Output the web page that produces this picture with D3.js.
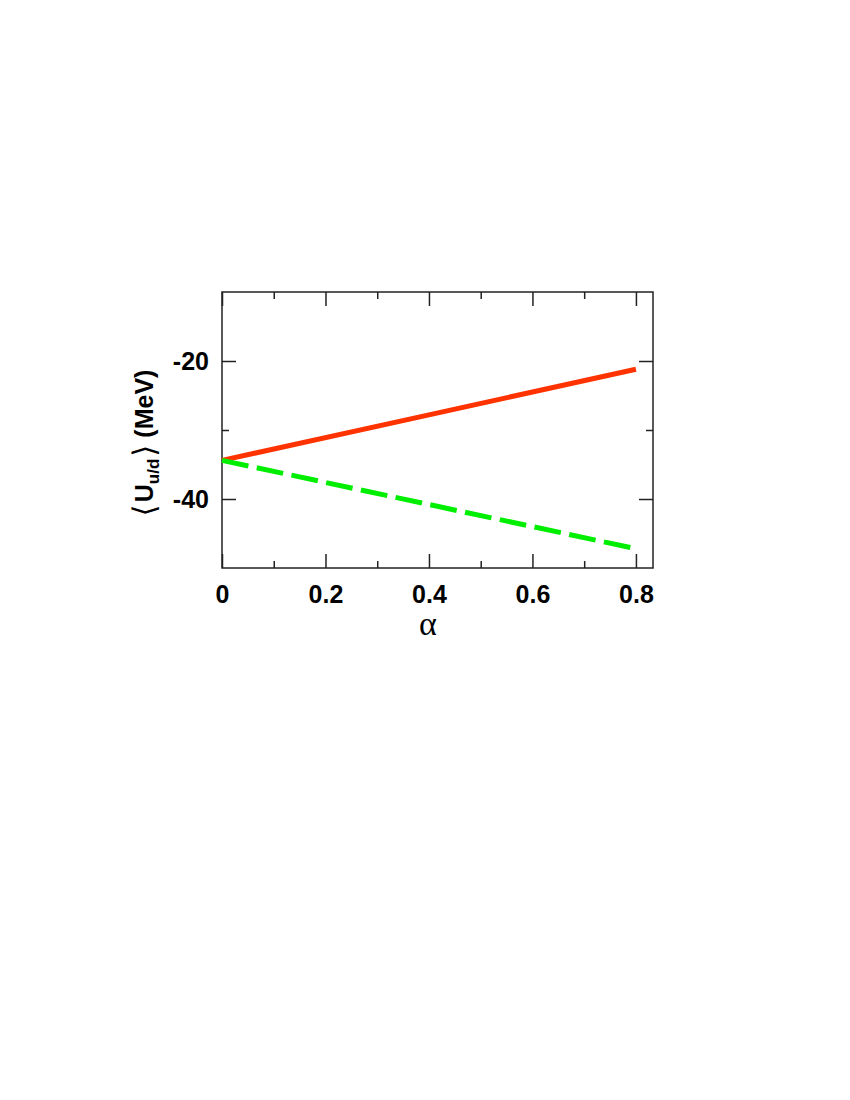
<!DOCTYPE html>
<html>
<head>
<meta charset="utf-8">
<script src="https://cdn.jsdelivr.net/npm/d3@7"></script>
<style>
  body { margin: 0; background: #fff; }
  svg { display: block; }
</style>
</head>
<body>
<svg id="chart" width="850" height="1100"></svg>
<script>
// ---- data ----
const alpha = [0, 0.4, 0.8];
const uUp = [-34.4, -27.8, -21.2];     // red solid
const uDown = [-34.4, -40.8, -47.2];   // green dashed
const xMajorTicks = [0, 0.2, 0.4, 0.6, 0.8];
const xMinorTicks = [0.1, 0.3, 0.5, 0.7];
const yMajorTicks = [-20, -40];
const yMinorTicks = [-30];
const xTickLabels = ["0", "0.2", "0.4", "0.6", "0.8"];
const yTickLabels = ["-20", "-40"];

// ---- layout ----
const L = 222, R = 653, T = 292, B = 568;
const svg = d3.select("#chart");
const x = d3.scaleLinear().domain([0, 0.833]).range([L, R]);
const y = d3.scaleLinear().domain([-50, -10]).range([B, T]);

const fontBold = "'Liberation Sans', Arial, Helvetica, sans-serif";

function styleAxis(g) {
  g.select(".domain").remove();
  g.selectAll(".tick line").attr("stroke", "#222").attr("stroke-width", 1.5);
  g.selectAll(".tick text").attr("fill", "#000")
    .style("font-family", fontBold).style("font-weight", "bold").style("font-size", "25px");
}

// bottom major
svg.append("g").attr("transform", `translate(0,${B})`)
  .call(d3.axisBottom(x).tickValues(xMajorTicks).tickSize(-14).tickPadding(17)
    .tickFormat((d, i) => xTickLabels[i]))
  .call(styleAxis);
// bottom minor
svg.append("g").attr("transform", `translate(0,${B})`)
  .call(d3.axisBottom(x).tickValues(xMinorTicks).tickSize(-7).tickFormat(""))
  .call(styleAxis);
// top major/minor
svg.append("g").attr("transform", `translate(0,${T})`)
  .call(d3.axisTop(x).tickValues(xMajorTicks).tickSize(-14).tickFormat(""))
  .call(styleAxis);
svg.append("g").attr("transform", `translate(0,${T})`)
  .call(d3.axisTop(x).tickValues(xMinorTicks).tickSize(-7).tickFormat(""))
  .call(styleAxis);
// left major
svg.append("g").attr("transform", `translate(${L},0)`)
  .call(d3.axisLeft(y).tickValues(yMajorTicks).tickSize(-14).tickPadding(13)
    .tickFormat((d, i) => yTickLabels[i]))
  .call(styleAxis);
svg.append("g").attr("transform", `translate(${L},0)`)
  .call(d3.axisLeft(y).tickValues(yMinorTicks).tickSize(-7).tickFormat(""))
  .call(styleAxis);
// right
svg.append("g").attr("transform", `translate(${R},0)`)
  .call(d3.axisRight(y).tickValues(yMajorTicks).tickSize(-14).tickFormat(""))
  .call(styleAxis);
svg.append("g").attr("transform", `translate(${R},0)`)
  .call(d3.axisRight(y).tickValues(yMinorTicks).tickSize(-7).tickFormat(""))
  .call(styleAxis);

// frame
svg.append("rect").attr("x", L).attr("y", T).attr("width", R - L).attr("height", B - T)
  .attr("fill", "none").attr("stroke", "#222").attr("stroke-width", 1.5);

// lines
const line = d3.line();
svg.append("path")
  .attr("d", line(alpha.map((a, i) => [x(a), y(uUp[i])])))
  .attr("fill", "none").attr("stroke", "#ff3300").attr("stroke-width", 5);
svg.append("path")
  .attr("d", line(alpha.map((a, i) => [x(a), y(uDown[i])])))
  .attr("fill", "none").attr("stroke", "#00ee00").attr("stroke-width", 5)
  .attr("stroke-dasharray", "27,8.5");

// x title
svg.append("text").attr("x", 428).attr("y", 635).attr("text-anchor", "middle")
  .style("font-family", "'Liberation Serif', 'DejaVu Serif', serif").style("font-size", "34px")
  .text("α");

// y title
const yt = svg.append("text")
  .attr("transform", "translate(153,443) rotate(-90)")
  .attr("text-anchor", "middle")
  .style("font-family", fontBold).style("font-weight", "bold").style("font-size", "25px");
yt.append("tspan").attr("dy", 2).style("font-family", "'DejaVu Sans', sans-serif").style("font-weight", "normal").style("font-size", "31px").text("⟨");
yt.append("tspan").attr("dy", -2).attr("dx", 2).text("U");
yt.append("tspan").attr("dy", 6).style("font-size", "17px").text("u/d");
yt.append("tspan").attr("dy", -4).attr("dx", 2).style("font-family", "'DejaVu Sans', sans-serif").style("font-weight", "normal").style("font-size", "31px").text("⟩");
yt.append("tspan").attr("dy", -2).text(" (MeV)");
</script>
</body>
</html>
